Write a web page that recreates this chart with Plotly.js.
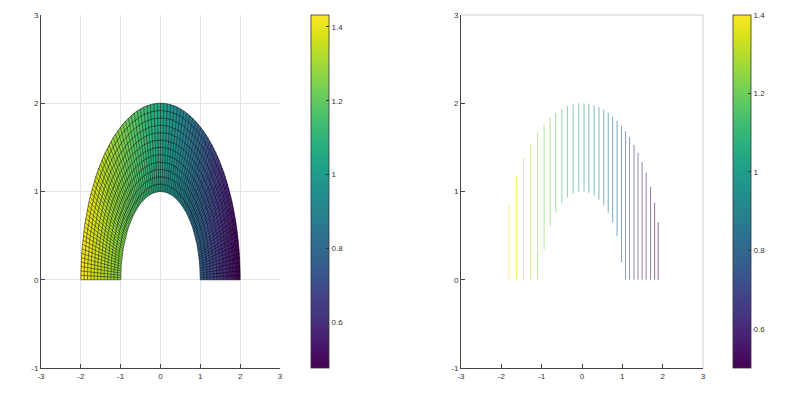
<!DOCTYPE html>
<html><head><meta charset="utf-8">
<script src="https://cdn.plot.ly/plotly-3.0.1.min.js"></script>
<style>html,body{margin:0;padding:0;background:#fff}#chart{width:800px;height:415px}</style>
</head><body><div id="chart"></div>
<script>
// ---- mesh of the left panel (half annulus, radius 1..2) ----
const ringRadii = [1.0, 1.083, 1.167, 1.25, 1.333, 1.417, 1.5, 1.583, 1.667, 1.75, 1.833, 1.917, 2.0];
const quarterAnglesDeg = [0, 1.43, 2.86, 4.29, 5.72, 7.16, 8.61, 10.06, 11.51, 12.96, 14.41, 15.87, 17.34, 18.82,
  20.31, 21.81, 23.32, 24.84, 26.37, 27.91, 29.46, 31.03, 32.62, 34.23, 35.86, 37.51, 39.18, 40.88, 42.60,
  44.35, 46.13, 47.95, 49.81, 51.71, 53.65, 55.63, 57.65, 59.71, 61.81, 63.96, 66.16, 68.41, 70.71, 73.04,
  75.40, 77.79, 80.22, 82.68, 85.17, 87.70, 90];

// ---- right panel: vertical iso-lines of the colour value ----
const lineX = [-1.81, -1.62, -1.45, -1.27, -1.10, -0.94, -0.79, -0.65, -0.50, -0.36, -0.22, -0.08, 0.05, 0.17,
  0.30, 0.42, 0.54, 0.65, 0.76, 0.87, 0.98, 1.08, 1.18, 1.29, 1.39, 1.49, 1.59, 1.70, 1.80, 1.89];
const lineYBottom = [0, 0, 0, 0, 0, 0.341, 0.613, 0.760, 0.866, 0.933, 0.976, 0.997, 0.999, 0.985,
  0.954, 0.908, 0.842, 0.760, 0.650, 0.493, 0.199, 0, 0, 0, 0, 0, 0, 0, 0, 0];
const lineYTop = [0.851, 1.173, 1.378, 1.545, 1.670, 1.765, 1.837, 1.891, 1.936, 1.967, 1.988, 1.998, 1.999, 1.993,
  1.977, 1.955, 1.926, 1.891, 1.850, 1.801, 1.743, 1.683, 1.615, 1.528, 1.438, 1.334, 1.213, 1.054, 0.872, 0.654];
const lineLevel = [1.400, 1.369, 1.338, 1.307, 1.276, 1.245, 1.214, 1.183, 1.152, 1.121, 1.090, 1.059, 1.028, 0.997,
  0.966, 0.934, 0.903, 0.872, 0.841, 0.810, 0.779, 0.748, 0.717, 0.686, 0.655, 0.624, 0.593, 0.562, 0.531, 0.500];

// colour limits of both colour bars
const leftCLim = [0.477, 1.432];
const rightCLim = [0.5, 1.4];
// colour value at the two ends of the annulus (x = -2 and x = 2)
const edgeX = [-2, 2];
const edgeC = [1.432, 0.477];

const xTicks = [-3, -2, -1, 0, 1, 2, 3];
const yTicks = [-1, 0, 1, 2, 3];
const cbTicks = [0.6, 0.8, 1, 1.2, 1.4];
const cbTickText = ['0.6', '0.8', '1', '1.2', '1.4'];

// ---- helpers ----
const viridis = [[0,'#440154'],[0.0627,'#48186a'],[0.1255,'#472d7b'],[0.1882,'#424086'],[0.2510,'#3b528b'],
  [0.3137,'#33638d'],[0.3765,'#2c728e'],[0.4392,'#26828e'],[0.5020,'#21918c'],[0.5647,'#1fa088'],
  [0.6275,'#28ae80'],[0.6902,'#3fbc73'],[0.7529,'#5ec962'],[0.8157,'#84d44b'],[0.8784,'#addc30'],
  [0.9412,'#d8e219'],[1,'#fde725']];
function hex2rgb(h){return [parseInt(h.substr(1,2),16),parseInt(h.substr(3,2),16),parseInt(h.substr(5,2),16)];}
function viridisAt(t){
  t = Math.max(0, Math.min(1, t));
  for (let i = 1; i < viridis.length; i++) {
    if (t <= viridis[i][0]) {
      const a = viridis[i-1], b = viridis[i];
      const f = (t - a[0]) / (b[0] - a[0]);
      const ca = hex2rgb(a[1]), cb = hex2rgb(b[1]);
      return 'rgb(' + ca.map((v,k)=>Math.round(v + (cb[k]-v)*f)).join(',') + ')';
    }
  }
  return viridis[viridis.length-1][1];
}
// colour field as function of x, from the iso-lines table
const fieldX = [edgeX[0]].concat(lineX, [edgeX[1]]);
const fieldC = [edgeC[0]].concat(lineLevel, [edgeC[1]]);
function fieldAt(x){
  if (x <= fieldX[0]) return fieldC[0];
  for (let i = 1; i < fieldX.length; i++) {
    if (x <= fieldX[i]) {
      const f = (x - fieldX[i-1]) / (fieldX[i] - fieldX[i-1]);
      return fieldC[i-1] + (fieldC[i] - fieldC[i-1]) * f;
    }
  }
  return fieldC[fieldC.length-1];
}

const anglesDeg = quarterAnglesDeg.concat(quarterAnglesDeg.slice(0, -1).reverse().map(a => 180 - a));
const ang = anglesDeg.map(a => a * Math.PI / 180);

// ---- cells, grouped by colormap entry (64 entries) ----
const NC = 64;
const bins = [];
for (let k = 0; k < NC; k++) bins.push({x: [], y: []});
for (let i = 0; i < ringRadii.length - 1; i++) {
  for (let j = 0; j < ang.length - 1; j++) {
    const r0 = ringRadii[i], r1 = ringRadii[i+1], a0 = ang[j], a1 = ang[j+1];
    const px = [r0*Math.cos(a0), r1*Math.cos(a0), r1*Math.cos(a1), r0*Math.cos(a1)];
    const py = [r0*Math.sin(a0), r1*Math.sin(a0), r1*Math.sin(a1), r0*Math.sin(a1)];
    const cx = (px[0]+px[1]+px[2]+px[3]) / 4;
    const c = fieldAt(cx);
    let k = Math.floor((c - leftCLim[0]) / (leftCLim[1] - leftCLim[0]) * NC);
    k = Math.max(0, Math.min(NC-1, k));
    bins[k].x.push(px[0], px[1], px[2], px[3], px[0], null);
    bins[k].y.push(py[0], py[1], py[2], py[3], py[0], null);
  }
}
const traces = [];
bins.forEach((b, k) => {
  if (!b.x.length) return;
  const col = viridisAt((k + 0.5) / NC);
  traces.push({type: 'scatter', mode: 'lines', x: b.x, y: b.y, fill: 'toself', fillcolor: col,
    line: {width: 0.3, color: col}, hoverinfo: 'skip', showlegend: false, xaxis: 'x', yaxis: 'y'});
});
// mesh edges
const mx = [], my = [];
ringRadii.forEach(r => { ang.forEach(a => { mx.push(r*Math.cos(a)); my.push(r*Math.sin(a)); }); mx.push(null); my.push(null); });
ang.forEach(a => {
  mx.push(ringRadii[0]*Math.cos(a), ringRadii[ringRadii.length-1]*Math.cos(a), null);
  my.push(ringRadii[0]*Math.sin(a), ringRadii[ringRadii.length-1]*Math.sin(a), null);
});
traces.push({type: 'scatter', mode: 'lines', x: mx, y: my, line: {width: 0.6, color: 'rgba(0,0,0,0.8)'},
  hoverinfo: 'skip', showlegend: false, xaxis: 'x', yaxis: 'y'});

// right panel lines
lineX.forEach((x, i) => {
  traces.push({type: 'scatter', mode: 'lines', x: [x, x], y: [lineYBottom[i], lineYTop[i]],
    line: {width: 1, color: viridisAt((lineLevel[i] - rightCLim[0]) / (rightCLim[1] - rightCLim[0]))},
    opacity: 0.6, hoverinfo: 'skip', showlegend: false, xaxis: 'x2', yaxis: 'y2'});
});

const plotBottom = 1 - 368/415, plotTop = 1 - 15/415;
function cbar(x0, clim, ax, ay) {
  return {type: 'scatter', mode: 'markers', x: [-100, -100], y: [-100, -100], xaxis: ax, yaxis: ay,
    hoverinfo: 'skip', showlegend: false,
    marker: {size: 1, color: clim, cmin: clim[0], cmax: clim[1], colorscale: viridis, showscale: true,
      colorbar: {x: x0, xanchor: 'left', y: plotBottom, yanchor: 'bottom', len: 353, lenmode: 'pixels',
        thickness: 18, thicknessmode: 'pixels', xpad: 0, ypad: 0, outlinewidth: 0.8, outlinecolor: '#333',
        tickvals: cbTicks, ticktext: cbTickText, ticks: 'inside', ticklen: 3, tickcolor: '#333',
        tickfont: {family: 'Liberation Sans, Arial, sans-serif', size: 8, color: '#333'}}}};
}
traces.push(cbar(311/800, leftCLim, 'x', 'y'));
traces.push(cbar(733/800, rightCLim, 'x2', 'y2'));

const tickFont = {family: 'Liberation Sans, Arial, sans-serif', size: 8, color: '#333'};
function axis(domain, range, ticks, grid, anchor) {
  return {domain: domain, range: range, tickvals: ticks, ticktext: ticks.map(String), showgrid: grid,
    gridcolor: '#e3e3e3', gridwidth: 1, zeroline: false, showline: true, linecolor: '#444', linewidth: 1,
    ticks: 'inside', ticklen: 4, tickcolor: '#444', tickfont: tickFont, anchor: anchor, fixedrange: true,
    mirror: false};
}
const layout = {
  width: 800, height: 415, margin: {l: 0, r: 0, t: 0, b: 0}, paper_bgcolor: '#fff', plot_bgcolor: '#fff',
  showlegend: false, hovermode: false,
  xaxis: axis([41/800, 280/800], [-3, 3], xTicks, true, 'y'),
  yaxis: axis([plotBottom, plotTop], [-1, 3], yTicks, true, 'x'),
  xaxis2: axis([461/800, 703/800], [-3, 3], xTicks, false, 'y2'),
  yaxis2: axis([plotBottom, plotTop], [-1, 3], yTicks, false, 'x2'),
  shapes: [
    {type: 'line', xref: 'x2 domain', yref: 'y2 domain', x0: 0, x1: 1, y0: 1, y1: 1, line: {color: '#cfcfcf', width: 1}, layer: 'below'},
    {type: 'line', xref: 'x2 domain', yref: 'y2 domain', x0: 1, x1: 1, y0: 0, y1: 1, line: {color: '#cfcfcf', width: 1}, layer: 'below'}
  ]
};
Plotly.newPlot('chart', traces, layout, {staticPlot: true, displayModeBar: false});
</script></body></html>
